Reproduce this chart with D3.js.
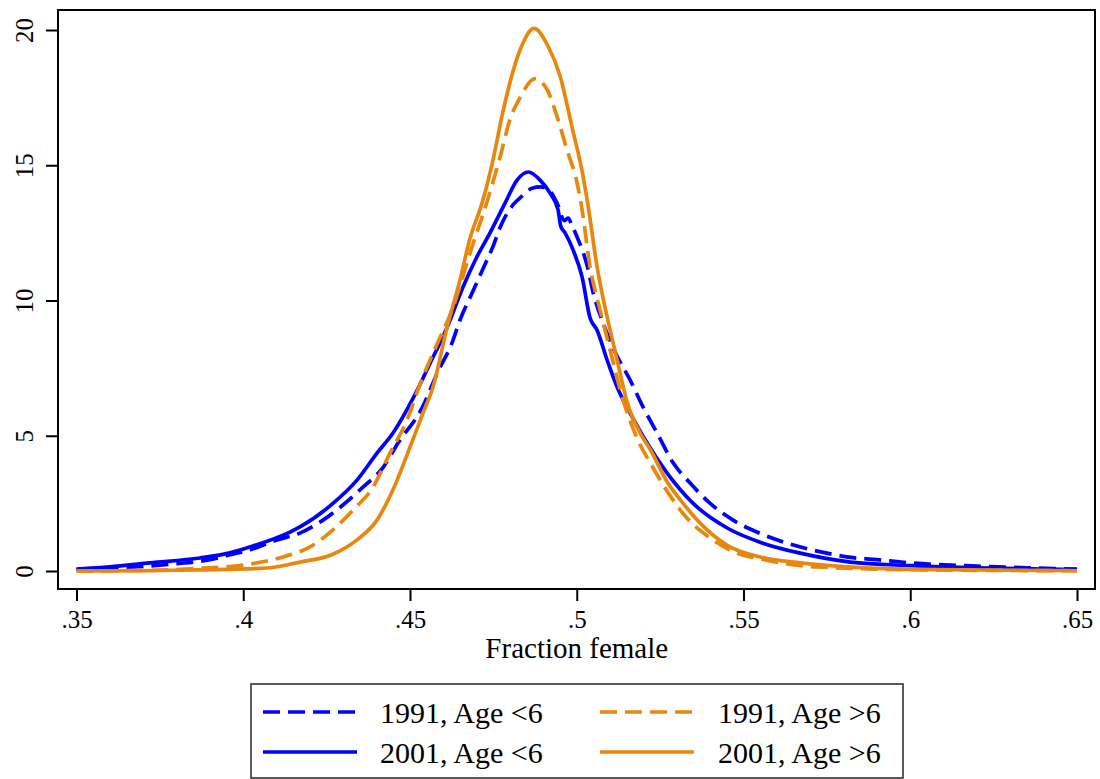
<!DOCTYPE html>
<html>
<head>
<meta charset="utf-8">
<script src="https://cdn.jsdelivr.net/npm/d3@7"></script>
<style>
  body { margin: 0; background: #fff; }
  svg { display: block; font-family: "Liberation Serif", "Times New Roman", serif; }
</style>
</head>
<body>
<svg id="chart" width="1100" height="779"></svg>
<script>
// ---- Data ----
const xTicks = [0.35, 0.40, 0.45, 0.50, 0.55, 0.60, 0.65];
const xTickLabels = [".35", ".4", ".45", ".5", ".55", ".6", ".65"];
const yTicks = [0, 5, 10, 15, 20];
const yTickLabels = ["0", "5", "10", "15", "20"];
const xTitle = "Fraction female";

// 1991, Age <6 (blue dashed)
const b91 = [[.35,.05],[.36,.1],[.37,.17],[.38,.27],[.39,.42],[.396,.6],[.402,.78],[.4101,1.15],[.417,1.4],[.4239,1.88],
  [.4299,2.44],[.4359,3.1],[.442,3.84],[.4465,4.75],[.4535,6.0],[.4585,7.4],[.4625,8.4],[.465,9.28],[.4689,10.35],
  [.4731,11.5],[.4749,12.0],[.477,12.7],[.481,13.55],[.4835,13.85],[.4866,14.15],[.489,14.2],[.4911,14.15],[.4941,13.6],
  [.4963,12.95],[.4974,13.05],[.4985,12.8],[.5001,12.35],[.5031,11.3],[.5049,10.3],[.5079,9.17],[.5112,8.17],[.516,7.06],
  [.5199,6.06],[.5241,5.1],[.5289,4.0],[.534,3.25],[.54,2.5],[.5469,1.88],[.554,1.44],[.563,1.03],[.575,.66],[.581,.52],
  [.59,.42],[.60,.3],[.62,.18],[.635,.12],[.65,.07]];

// 2001, Age <6 (blue solid)
const b01 = [[.35,.07],[.36,.15],[.372,.3],[.387,.48],[.396,.67],[.402,.89],[.414,1.44],[.417,1.63],[.4269,2.5],[.4341,3.36],
  [.4401,4.36],[.4449,5.1],[.4509,6.38],[.4561,7.7],[.4611,9.0],[.4659,10.5],[.470,11.6],[.474,12.5],[.4785,13.6],
  [.4821,14.45],[.4855,14.75],[.489,14.45],[.492,13.97],[.4944,13.35],[.4952,12.75],[.4965,12.5],[.4989,11.87],
  [.5016,10.87],[.504,9.35],[.5061,8.9],[.5091,7.8],[.5121,6.8],[.5139,6.32],[.516,5.84],[.5205,4.85],[.5271,3.62],
  [.5349,2.5],[.5451,1.59],[.5558,1.03],[.567,.66],[.582,.33],[.60,.2],[.62,.12],[.65,.05]];

// 1991, Age >6 (orange dashed)
const o91 = [[.35,0],[.37,.02],[.387,.1],[.3999,.22],[.4119,.52],[.42,.89],[.4269,1.52],[.4329,2.25],[.4389,3.1],[.444,4.36],
  [.4491,5.58],[.453,6.9],[.4578,8.3],[.4626,9.65],[.4689,12.1],[.4731,13.65],[.477,15.3],[.48,16.7],[.483,17.5],
  [.4875,18.2],[.4911,17.8],[.4941,16.8],[.4971,15.56],[.5001,14.35],[.5016,13.35],[.504,11.24],[.507,9.65],[.51,8.17],
  [.5139,6.32],[.5185,4.8],[.5225,3.9],[.5271,2.95],[.5331,1.95],[.5391,1.3],[.5469,.72],[.557,.4],[.572,.15],
  [.60,.05],[.65,.01]];

// 2001, Age >6 (orange solid)
const o01 = [[.35,0],[.37,.01],[.387,.04],[.4071,.11],[.417,.33],[.4269,.62],[.4341,1.15],[.4401,1.88],[.4449,3.0],[.45,4.58],
  [.4539,5.84],[.4569,6.8],[.4611,9.0],[.465,10.76],[.468,12.3],[.4716,13.6],[.4749,15.2],[.4779,17.0],[.483,19.26],
  [.4872,20.06],[.4914,19.4],[.495,18.3],[.4986,16.4],[.5019,14.6],[.5034,13.5],[.5061,11.24],[.5091,9.4],[.5121,7.8],
  [.5151,6.25],[.519,5.1],[.522,4.5],[.5271,3.3],[.5319,2.5],[.537,1.77],[.5451,.95],[.555,.52],[.567,.3],[.581,.15],
  [.60,.06],[.65,.01]];

const seriesNames = ["1991, Age <6", "1991, Age >6", "2001, Age <6", "2001, Age >6"];
const seriesData = [b91, o91, b01, o01];

// ---- Styling ----
const BLUE = "#0000ff", ORANGE = "#e8870e";
const styles = [
  {color: BLUE, dash: "17,8"},
  {color: ORANGE, dash: "17,8"},
  {color: BLUE, dash: null},
  {color: ORANGE, dash: null}
];

const svg = d3.select("#chart");
const frame = {left: 58, top: 10, right: 1095, bottom: 589};

const x = d3.scaleLinear().domain([0.35, 0.65]).range([76.5, 1077]);
const y = d3.scaleLinear().domain([0, 20]).range([571, 30]);

// Curves
const line = d3.line().x(d => x(d[0])).y(d => y(d[1])).curve(d3.curveMonotoneX);
const drawOrder = [0, 2, 1, 3];
drawOrder.forEach(i => {
  svg.append("path")
    .datum(seriesData[i])
    .attr("fill", "none")
    .attr("stroke", styles[i].color)
    .attr("stroke-width", 3.7)
    .attr("stroke-linejoin", "round")
    .attr("stroke-dasharray", styles[i].dash)
    .attr("d", line);
});

// Frame
svg.append("rect")
  .attr("x", frame.left).attr("y", frame.top)
  .attr("width", frame.right - frame.left).attr("height", frame.bottom - frame.top)
  .attr("fill", "none").attr("stroke", "#000").attr("stroke-width", 2);

// X axis
const xAxis = d3.axisBottom(x).tickValues(xTicks)
  .tickFormat((d, i) => xTickLabels[i]).tickSize(12).tickPadding(9);
const gx = svg.append("g").attr("transform", `translate(0,${frame.bottom})`).call(xAxis);
gx.select(".domain").remove();
gx.selectAll(".tick line").attr("stroke", "#000").attr("stroke-width", 2);
gx.selectAll(".tick text").attr("font-size", 25).attr("fill", "#000")
  .attr("font-family", "Liberation Serif, serif");

// Y axis
const yAxis = d3.axisLeft(y).tickValues(yTicks)
  .tickFormat((d, i) => yTickLabels[i]).tickSize(12);
const gy = svg.append("g").attr("transform", `translate(${frame.left},0)`).call(yAxis);
gy.select(".domain").remove();
gy.selectAll(".tick line").attr("stroke", "#000").attr("stroke-width", 2);
gy.selectAll(".tick text")
  .attr("x", null).attr("dy", null)
  .attr("text-anchor", "middle")
  .attr("transform", "translate(-25,0) rotate(-90)")
  .attr("font-size", 25).attr("fill", "#000")
  .attr("font-family", "Liberation Serif, serif");

// X title
svg.append("text")
  .attr("x", (x(0.35) + x(0.65)) / 2).attr("y", 658)
  .attr("text-anchor", "middle").attr("font-size", 29).attr("fill", "#000")
  .text(xTitle);

// Legend
const lg = svg.append("g");
lg.append("rect").attr("x", 251).attr("y", 684).attr("width", 652).attr("height", 94)
  .attr("fill", "#fff").attr("stroke", "#333").attr("stroke-width", 1.6);
const cols = [{x1: 263, x2: 357, tx: 380}, {x1: 600, x2: 694, tx: 718}];
const rows = [712, 752];
seriesNames.forEach((name, i) => {
  const c = cols[i % 2], r = rows[Math.floor(i / 2)];
  lg.append("line").attr("x1", c.x1).attr("x2", c.x2).attr("y1", r).attr("y2", r)
    .attr("stroke", styles[i].color).attr("stroke-width", 3.7)
    .attr("stroke-dasharray", styles[i].dash);
  lg.append("text").attr("x", c.tx).attr("y", r + 10.5)
    .attr("font-size", 30).attr("fill", "#000").text(name);
});
</script>
</body>
</html>
